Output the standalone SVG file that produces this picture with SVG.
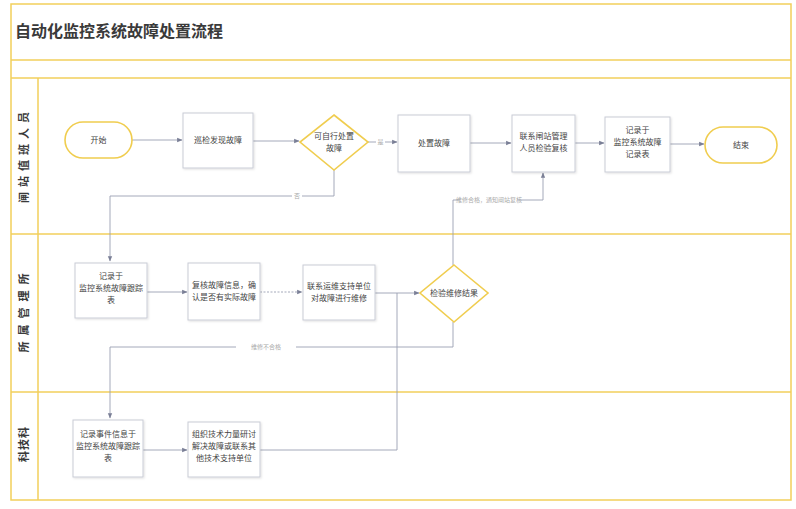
<svg xmlns="http://www.w3.org/2000/svg" width="796" height="509" viewBox="0 0 796 509">
<defs>
<style>
.lane{fill:none;stroke:#f2cf5b;stroke-width:1.5}
.t{font-family:"Noto Sans CJK SC","Noto Sans",sans-serif;fill:#3a3a3a}
.node{fill:#fff;stroke:#c9ccd6;stroke-width:1;filter:url(#sh)}
.term{fill:#fff;stroke:#f0cd4f;stroke-width:1.6}
.dia{fill:#fff;stroke:#f0cd4f;stroke-width:1.6}
.nt{font-family:"Noto Sans CJK SC","Noto Sans",sans-serif;font-size:8px;fill:#444;text-anchor:middle}
.c{fill:none;stroke:#9a9fb2;stroke-width:0.9}
.lbl{font-family:"Noto Sans CJK SC","Noto Sans",sans-serif;font-size:6px;fill:#aaa;text-anchor:middle}
.lb{fill:#fff}
</style>
<filter id="sh" x="-10%" y="-10%" width="125%" height="125%">
<feDropShadow dx="1" dy="1" stdDeviation="1" flood-color="#000" flood-opacity="0.12"/>
</filter>
<marker id="ar" viewBox="0 0 10 10" refX="9" refY="5" markerWidth="6" markerHeight="6" orient="auto">
<path d="M0,1 L10,5 L0,9 z" fill="#7a7f96"/>
</marker>
</defs>
<rect width="796" height="509" fill="#fff"/>
<g id="frame">
<rect class="lane" x="11" y="4" width="780" height="496"/>
<line class="lane" x1="11" y1="60" x2="791" y2="60"/>
<line class="lane" x1="11" y1="78" x2="791" y2="78"/>
<line class="lane" x1="11" y1="234" x2="791" y2="234"/>
<line class="lane" x1="11" y1="392" x2="791" y2="392"/>
<line class="lane" x1="38" y1="78" x2="38" y2="500"/>
<text class="t" x="15" y="37" font-size="16" font-weight="bold">自动化监控系统故障处置流程</text>
<text class="t" font-size="11" font-weight="bold" letter-spacing="5" text-anchor="middle" transform="translate(28,155) rotate(-90)">闸站值班人员</text>
<text class="t" font-size="11" font-weight="bold" letter-spacing="6" text-anchor="middle" transform="translate(28,310) rotate(-90)">所属管理所</text>
<text class="t" font-size="11" font-weight="bold" letter-spacing="1" text-anchor="middle" transform="translate(28,444) rotate(-90)">科技科</text>
</g>
<g id="connectors">
<line class="c" x1="132" y1="140" x2="182" y2="140" marker-end="url(#ar)"/>
<line class="c" x1="253" y1="141" x2="299" y2="141" marker-end="url(#ar)"/>
<line class="c" x1="368" y1="142" x2="397" y2="142" marker-end="url(#ar)"/>
<rect class="lb" x="376" y="138" width="9" height="8"/>
<text class="lbl" x="380.5" y="144">是</text>
<line class="c" x1="470" y1="143" x2="511" y2="143" marker-end="url(#ar)"/>
<line class="c" x1="575" y1="143" x2="604" y2="143" marker-end="url(#ar)"/>
<line class="c" x1="670" y1="144" x2="704" y2="144" marker-end="url(#ar)"/>
<path class="c" d="M334,170 V196 H110 V261" marker-end="url(#ar)"/>
<rect class="lb" x="292" y="192" width="10" height="8"/>
<text class="lbl" x="297" y="198">否</text>
<path class="c" d="M453,265 V200 H543 V173" marker-end="url(#ar)"/>
<rect class="lb" x="460" y="196" width="58" height="8"/>
<text class="lbl" x="489" y="202">维修合格，通知闸站复核</text>
<line class="c" x1="147" y1="292" x2="187" y2="292" marker-end="url(#ar)"/>
<line class="c" x1="260" y1="292" x2="302" y2="292" stroke-dasharray="2,1.5" marker-end="url(#ar)"/>
<line class="c" x1="375" y1="293" x2="419" y2="293" marker-end="url(#ar)"/>
<path class="c" d="M453,322 V347 H110 V418" marker-end="url(#ar)"/>
<rect class="lb" x="236" y="343" width="60" height="8"/>
<text class="lbl" x="266" y="349">维修不合格</text>
<line class="c" x1="143" y1="450" x2="187" y2="450" marker-end="url(#ar)"/>
<path class="c" d="M260,450 H397 V293"/>
</g>
<g id="n-start">
<rect class="term" x="65" y="122" width="67" height="36" rx="18"/>
<text class="nt" x="98.5" y="143">开始</text>
</g>
<g id="n-patrol">
<rect class="node" x="183" y="113" width="70" height="55"/>
<text class="nt" x="218" y="143">巡检发现故障</text>
</g>
<g id="n-self">
<polygon class="dia" points="334,115 368,142 334,170 300,142"/>
<text class="nt" x="334" y="139">可自行处置</text>
<text class="nt" x="334" y="151">故障</text>
</g>
<g id="n-handle">
<rect class="node" x="398" y="115" width="72" height="57"/>
<text class="nt" x="434" y="146">处置故障</text>
</g>
<g id="n-contact">
<rect class="node" x="512" y="115" width="63" height="57"/>
<text class="nt" x="543.5" y="139">联系闸站管理</text>
<text class="nt" x="543.5" y="151">人员检验复核</text>
</g>
<g id="n-record1">
<rect class="node" x="605" y="117" width="65" height="55"/>
<text class="nt" x="637.5" y="133">记录于</text>
<text class="nt" x="637.5" y="145">监控系统故障</text>
<text class="nt" x="637.5" y="157">记录表</text>
</g>
<g id="n-end">
<rect class="term" x="705" y="127" width="72" height="36" rx="18"/>
<text class="nt" x="741" y="148">结束</text>
</g>
<g id="n-track">
<rect class="node" x="75" y="263" width="72" height="55"/>
<text class="nt" x="111" y="279">记录于</text>
<text class="nt" x="111" y="291">监控系统故障跟踪</text>
<text class="nt" x="111" y="303">表</text>
</g>
<g id="n-verify">
<rect class="node" x="188" y="263" width="72" height="57"/>
<text class="nt" x="224" y="288">复核故障信息，确</text>
<text class="nt" x="224" y="300">认是否有实际故障</text>
</g>
<g id="n-repair">
<rect class="node" x="303" y="265" width="72" height="55"/>
<text class="nt" x="339" y="289">联系运维支持单位</text>
<text class="nt" x="339" y="301">对故障进行维修</text>
</g>
<g id="n-check">
<polygon class="dia" points="454,265 488,293 454,322 420,293"/>
<text class="nt" x="454" y="296">检验维修结果</text>
</g>
<g id="n-event">
<rect class="node" x="73" y="420" width="70" height="57"/>
<text class="nt" x="108" y="437">记录事件信息于</text>
<text class="nt" x="108" y="449">监控系统故障跟踪</text>
<text class="nt" x="108" y="461">表</text>
</g>
<g id="n-tech">
<rect class="node" x="188" y="422" width="72" height="55"/>
<text class="nt" x="224" y="437">组织技术力量研讨</text>
<text class="nt" x="224" y="449">解决故障或联系其</text>
<text class="nt" x="224" y="461">他技术支持单位</text>
</g>
</svg>
